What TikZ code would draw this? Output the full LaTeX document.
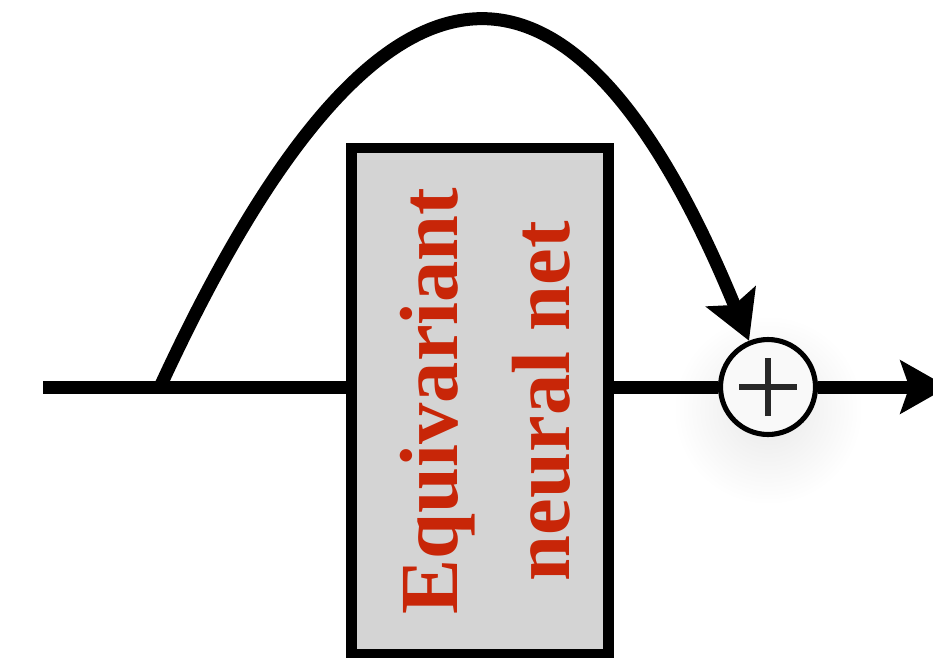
\documentclass[tikz,border=0pt]{standalone}
\usepackage{fontspec}
\setmainfont{Liberation Serif}
\usepackage{xcolor}
\usepackage{tikz}
\usetikzlibrary{positioning, arrows.meta}

\definecolor{netred}{RGB}{200,38,8}
\definecolor{netgray}{RGB}{212,212,212}
\definecolor{plusgray}{RGB}{40,40,40}

\tikzset{
  wire/.style={line width=7.4pt},
  tip/.style={-{Stealth[length=27pt,width=30pt,inset=5pt]}},
  netbox/.style={draw, line width=5.9pt, fill=netgray, inner sep=0pt,
                 minimum width=5.14cm, minimum height=10.12cm},
  netlabel/.style={rotate=90, text=netred, align=center, inner sep=0pt,
                   font=\bfseries\fontsize{47}{63.7}\selectfont},
  sumnode/.style={circle, draw, line width=2.9pt, fill=gray!5, inner sep=0pt,
                  minimum size=1.9cm,
                  path picture={\draw[plusgray, line width=2.9pt]
                    ([xshift=-0.58cm]path picture bounding box.center) --
                    ([xshift=0.58cm]path picture bounding box.center)
                    ([yshift=-0.58cm]path picture bounding box.center) --
                    ([yshift=0.58cm]path picture bounding box.center);}}
}

\begin{document}
\begin{tikzpicture}[x=0.02cm, y=-0.02cm]
       \useasboundingbox (0,0) rectangle (933,657);
       \shade[inner color=black!9, outer color=white] (768,410) circle (1.9cm);

       \node[netbox] (net) at (480,401) {};
       \node[netlabel] (netname) at (485,401) {Equivariant\\neural net};
       \node[sumnode] (plus) at (768,387) {};

       \coordinate (in) at (43,387);
       \coordinate (tap) at (160,387);
       \coordinate (out) at (948,387);

       \draw[wire] (in) -- (in -| net.west);
       \draw[wire] (in -| net.east) -- (plus);
       \draw[wire, tip] (plus) -- (out);
       \draw[wire, tip] (tap) .. controls (380,-90) and (572,-90) .. (plus);
\end{tikzpicture}
\end{document}
